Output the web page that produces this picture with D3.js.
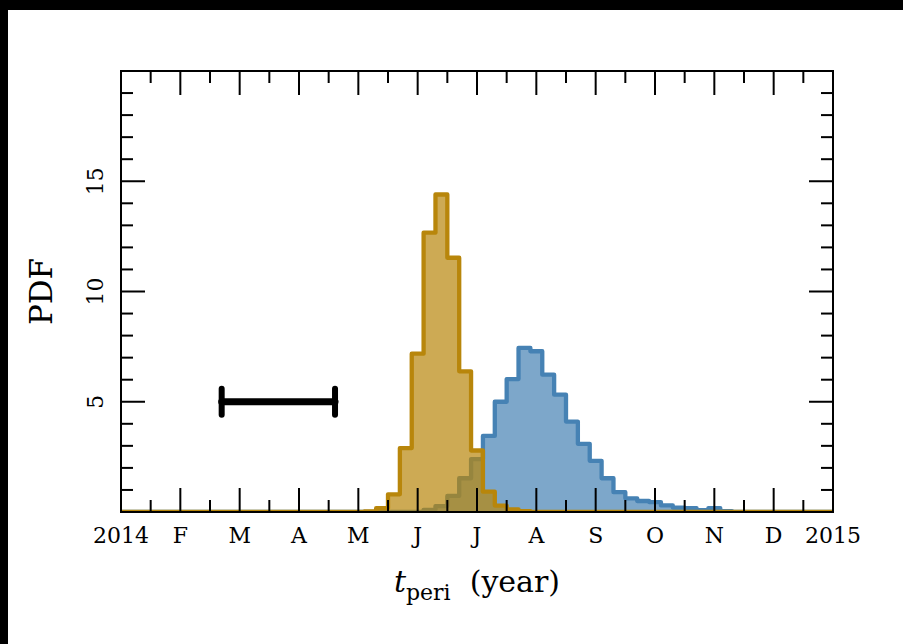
<!DOCTYPE html>
<html>
<head>
<meta charset="utf-8">
<script src="https://cdn.jsdelivr.net/npm/d3@7"></script>
<style>
  body { margin: 0; background: #fff; }
  text { font-family: "DejaVu Serif", serif; fill: #000; }
</style>
</head>
<body>
<script>
// month tick labels, one per 1/12 year from 2014.0 to 2015.0
const monthLabels = ["2014", "F", "M", "A", "M", "J", "J", "A", "S", "O", "N", "D", "2015"];
const yMajorTicks = [5, 10, 15];

// histograms: bins of 1/60 year, edges at (k + 0.5) / 60
const binsPerYear = 60;
const orangeFirstBin = 20;
const orangeValues = [0.03, 0.17, 0.8, 2.9, 7.18, 12.67, 14.4, 11.53, 6.38, 2.79, 0.92, 0.29, 0.12, 0.04];
const blueFirstBin = 25;
const blueValues = [0.1, 0.27, 0.73, 1.53, 2.4, 3.45, 5.0, 6.03, 7.44, 7.29, 6.23, 5.32, 4.1, 3.09,
                    2.32, 1.53, 0.9, 0.62, 0.5, 0.45, 0.3, 0.2, 0.18, 0.08, 0.18, 0.04];

// error bar (year fraction)
const errCenter = 0.221;
const errHalf = 0.0796;
const errY = 5;

const width = 903, height = 644;
const margin = { left: 121, top: 71, right: 70, bottom: 132 };

const svg = d3.select("body").append("svg")
  .attr("width", width)
  .attr("height", height);

// black edges of the screenshot
svg.append("rect").attr("x", 0).attr("y", 0).attr("width", width).attr("height", 10).attr("fill", "#000");
svg.append("rect").attr("x", 0).attr("y", 0).attr("width", 8).attr("height", height).attr("fill", "#000");

const x = d3.scaleLinear().domain([0, 1]).range([margin.left, width - margin.right]);
const y = d3.scaleLinear().domain([0, 20]).range([height - margin.bottom, margin.top]);

svg.append("clipPath").attr("id", "plotclip")
  .append("rect")
  .attr("x", x(0)).attr("y", y(20))
  .attr("width", x(1) - x(0)).attr("height", y(0) - y(20));

function stepPoints(first, values) {
  const edge = k => (k + 0.5) / binsPerYear;
  const pts = [[0, 0]];
  values.forEach((v, i) => pts.push([edge(first + i), v]));
  pts.push([edge(first + values.length), 0]);
  pts.push([1, 0]);
  return pts;
}

const area = d3.area().curve(d3.curveStepAfter)
  .x(d => x(d[0])).y0(y(0)).y1(d => y(d[1]));
const line = d3.line().curve(d3.curveStepAfter)
  .x(d => x(d[0])).y(d => y(d[1]));

const plot = svg.append("g").attr("clip-path", "url(#plotclip)");

const series = [
  { first: blueFirstBin, values: blueValues, color: "steelblue" },
  { first: orangeFirstBin, values: orangeValues, color: "darkgoldenrod" }
];

series.forEach(s => {
  const pts = stepPoints(s.first, s.values);
  plot.append("path").attr("d", area(pts))
    .attr("fill", s.color).attr("fill-opacity", 0.7);
  plot.append("path").attr("d", line(pts))
    .attr("fill", "none").attr("stroke", s.color)
    .attr("stroke-width", 4.3).attr("stroke-linejoin", "round");
});

// error bar
const eb = svg.append("g").attr("stroke", "#000").attr("stroke-linecap", "round");
eb.append("line")
  .attr("x1", x(errCenter - errHalf)).attr("x2", x(errCenter + errHalf))
  .attr("y1", y(errY)).attr("y2", y(errY))
  .attr("stroke-width", 7);
[errCenter - errHalf, errCenter + errHalf].forEach(v => {
  eb.append("line")
    .attr("x1", x(v)).attr("x2", x(v))
    .attr("y1", y(errY) - 13).attr("y2", y(errY) + 13)
    .attr("stroke-width", 6);
});

// ticks
const ticks = svg.append("g").attr("stroke", "#000").attr("stroke-width", 2);
d3.range(0, 25).forEach(i => {
  const v = i / 24;
  const len = i % 2 === 0 ? 24 : 12;
  ticks.append("line").attr("x1", x(v)).attr("x2", x(v)).attr("y1", y(0)).attr("y2", y(0) - len);
  ticks.append("line").attr("x1", x(v)).attr("x2", x(v)).attr("y1", y(20)).attr("y2", y(20) + len);
});
d3.range(0, 21).forEach(v => {
  const len = v % 5 === 0 ? 24 : 12;
  ticks.append("line").attr("x1", x(0)).attr("x2", x(0) + len).attr("y1", y(v)).attr("y2", y(v));
  ticks.append("line").attr("x1", x(1)).attr("x2", x(1) - len).attr("y1", y(v)).attr("y2", y(v));
});

// frame
svg.append("rect")
  .attr("x", x(0)).attr("y", y(20))
  .attr("width", x(1) - x(0)).attr("height", y(0) - y(20))
  .attr("fill", "none").attr("stroke", "#000").attr("stroke-width", 2);

// tick labels
svg.append("g").selectAll("text")
  .data(monthLabels)
  .join("text")
  .attr("x", (d, i) => x(i / 12))
  .attr("y", y(0) + 31)
  .attr("text-anchor", "middle")
  .attr("font-size", 22)
  .text(d => d);

svg.append("g").selectAll("text")
  .data(yMajorTicks)
  .join("text")
  .attr("transform", d => `translate(${x(0) - 18},${y(d)}) rotate(-90)`)
  .attr("text-anchor", "middle")
  .attr("font-size", 22)
  .text(d => d);

// axis labels
svg.append("text")
  .attr("transform", `translate(52,${(y(0) + y(20)) / 2}) rotate(-90)`)
  .attr("text-anchor", "middle")
  .attr("font-size", 31)
  .text("PDF");

const xl = svg.append("text")
  .attr("x", (x(0) + x(1)) / 2)
  .attr("y", 592)
  .attr("text-anchor", "middle")
  .attr("font-size", 30);
xl.append("tspan").attr("font-style", "italic").text("t");
xl.append("tspan").attr("font-size", 22).attr("dy", 8).text("peri");
xl.append("tspan").attr("dy", -8).text("\u00a0\u00a0(year)");
</script>
</body>
</html>
